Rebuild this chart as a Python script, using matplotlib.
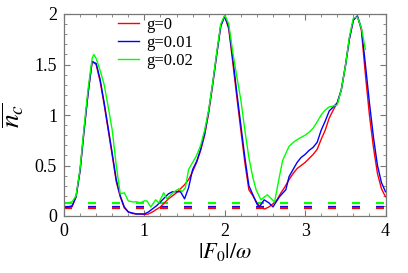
import matplotlib
matplotlib.use('Agg')
import matplotlib.pyplot as plt
import matplotlib.ticker as ticker

# g=0
x_r = [0, 0.05, 0.1, 0.15, 0.2, 0.25, 0.3, 0.35, 0.4, 0.45, 0.5, 0.55, 0.6, 0.65, 0.7,
       0.75, 0.8, 0.85, 0.9, 0.95, 1.0, 1.05, 1.1, 1.15, 1.2, 1.25, 1.3, 1.35, 1.4, 1.45,
       1.5, 1.55, 1.6, 1.65, 1.7, 1.75, 1.8, 1.85, 1.9, 1.95, 2.0, 2.05, 2.1, 2.15, 2.2,
       2.25, 2.3, 2.35, 2.4, 2.45, 2.5, 2.55, 2.6, 2.65, 2.7, 2.75, 2.8, 2.85, 2.9, 2.95,
       3.0, 3.05, 3.1, 3.15, 3.2, 3.25, 3.3, 3.35, 3.4, 3.45, 3.5, 3.55, 3.6, 3.65, 3.7,
       3.75, 3.8, 3.85, 3.9, 3.95, 4.0]
y_r = [0.08, 0.08, 0.09, 0.19, 0.45, 0.85, 1.22, 1.53, 1.5, 1.33, 1.1, 0.85, 0.6, 0.34, 0.19,
       0.08, 0.04, 0.025, 0.02, 0.02, 0.015, 0.02, 0.04, 0.065, 0.09, 0.13, 0.17, 0.2, 0.23, 0.27,
       0.31, 0.36, 0.44, 0.53, 0.65, 0.8, 1.02, 1.3, 1.6, 1.88, 1.98, 1.85, 1.52, 1.18, 0.85,
       0.53, 0.26, 0.2, 0.13, 0.08, 0.07, 0.09, 0.12, 0.16, 0.23, 0.29, 0.36, 0.42, 0.47, 0.5,
       0.53, 0.57, 0.61, 0.66, 0.76, 0.85, 0.97, 1.05, 1.12, 1.25, 1.48, 1.75, 1.94, 1.98, 1.84,
       1.4, 1.0, 0.68, 0.42, 0.27, 0.19]

# g=0.01
x_b = [0, 0.05, 0.1, 0.15, 0.2, 0.25, 0.3, 0.35, 0.4, 0.45, 0.5, 0.55, 0.6, 0.65, 0.7,
       0.75, 0.8, 0.85, 0.9, 0.95, 1.0, 1.05, 1.1, 1.15, 1.2, 1.25, 1.3, 1.35, 1.4, 1.45,
       1.5, 1.55, 1.6, 1.65, 1.7, 1.75, 1.8, 1.85, 1.9, 1.95, 2.0, 2.05, 2.1, 2.15, 2.2,
       2.25, 2.3, 2.35, 2.4, 2.43, 2.49, 2.55, 2.6, 2.68, 2.76, 2.8, 2.85, 2.9, 2.95,
       3.0, 3.05, 3.1, 3.15, 3.2, 3.25, 3.3, 3.35, 3.4, 3.45, 3.5, 3.55, 3.6, 3.65, 3.7,
       3.75, 3.8, 3.85, 3.9, 3.95, 4.0]
y_b = [0.09, 0.09, 0.1, 0.19, 0.45, 0.85, 1.22, 1.53, 1.51, 1.35, 1.12, 0.87, 0.62, 0.36, 0.2,
       0.09, 0.04, 0.03, 0.02, 0.02, 0.02, 0.04, 0.07, 0.1, 0.14, 0.18, 0.22, 0.24, 0.24, 0.24,
       0.17, 0.28, 0.46, 0.54, 0.66, 0.82, 1.04, 1.31, 1.6, 1.88, 1.98, 1.87, 1.56, 1.22, 0.9,
       0.58, 0.3, 0.21, 0.12, 0.09, 0.16, 0.13, 0.09, 0.19, 0.26, 0.39, 0.46, 0.53, 0.58,
       0.61, 0.65, 0.68, 0.73, 0.85, 0.94, 1.04, 1.08, 1.12, 1.25, 1.48, 1.75, 1.94, 1.98, 1.86,
       1.5, 1.12, 0.78, 0.5, 0.33, 0.24]

# g=0.02
x_g = [0, 0.05, 0.1, 0.15, 0.2, 0.25, 0.3, 0.35, 0.37, 0.4, 0.45, 0.5, 0.55, 0.6, 0.65, 0.7,
       0.75, 0.8, 0.85, 0.9, 0.95, 1.0, 1.03, 1.08, 1.14, 1.18, 1.24, 1.28, 1.33, 1.37, 1.43,
       1.47, 1.51, 1.55, 1.6, 1.65, 1.7, 1.75, 1.8, 1.85, 1.9, 1.95, 2.0, 2.05, 2.1, 2.15,
       2.2, 2.25, 2.3, 2.35, 2.39, 2.45, 2.53, 2.62, 2.68, 2.72, 2.8, 2.87, 2.93, 3.0, 3.05,
       3.1, 3.14, 3.2, 3.25, 3.3, 3.35, 3.4, 3.45, 3.5, 3.55, 3.6, 3.65, 3.7, 3.75]
y_g = [0.13, 0.13, 0.14, 0.2, 0.47, 0.88, 1.26, 1.56, 1.6, 1.56, 1.44, 1.3, 1.08, 0.85, 0.5, 0.22,
       0.23, 0.15, 0.14, 0.14, 0.13, 0.15, 0.15, 0.09, 0.16, 0.13, 0.23, 0.17, 0.21, 0.24, 0.27,
       0.24, 0.28, 0.46, 0.53, 0.6, 0.7, 0.85, 1.05, 1.32, 1.62, 1.9, 1.99, 1.9, 1.62, 1.38,
       1.15, 0.85, 0.58, 0.38, 0.26, 0.16, 0.21, 0.14, 0.39, 0.55, 0.69, 0.74, 0.77, 0.8, 0.83,
       0.87, 0.92, 1.0, 1.05, 1.08, 1.09, 1.1, 1.25, 1.48, 1.77, 1.96, 1.97, 1.86, 1.65]

# dashed reference levels
level_r = 0.076
level_b = 0.092
level_g = 0.13

labels = ["g=0", "g=0.01", "g=0.02"]
colors = ["#ff0000", "#0000ff", "#00ff00"]

plt.rcParams['font.family'] = ['Liberation Serif', 'DejaVu Serif']
plt.rcParams['mathtext.fontset'] = 'stix'
plt.rcParams['lines.scale_dashes'] = False

fig = plt.figure(figsize=(4.08, 2.73), dpi=100)
ax = fig.add_axes([64/408, 1 - 216/273, 321.5/408, 202/273])

dash = (5.76, 11.52)
for lev, c in zip([level_g, level_b, level_r], [colors[2], colors[1], colors[0]]):
  ax.plot([0, 4], [lev, lev], color=c, lw=1.6, dashes=dash)

for xs, ys, c, lab in zip([x_r, x_b, x_g], [y_r, y_b, y_g], colors, labels):
  ax.plot(xs, ys, color=c, lw=1.0, label=lab)

ax.set_xlim(0, 4)
ax.set_ylim(0, 2)
ax.set_xticks([0, 1, 2, 3, 4])
ax.set_xticklabels(["0", "1", "2", "3", "4"])
ax.set_yticks([0, 0.5, 1, 1.5, 2])
ax.set_yticklabels(["0", "0.5", "1", "1.5", "2"])
ax.xaxis.set_minor_locator(ticker.MultipleLocator(0.2))
ax.yaxis.set_minor_locator(ticker.MultipleLocator(0.1))
ax.tick_params(which='both', direction='in', top=True, right=True, colors='#777777',
               labelcolor='black', labelsize=13)
ax.tick_params(which='major', length=4, width=0.8, pad=5)
ax.tick_params(which='minor', length=2.2, width=0.6)
for sp in ax.spines.values():
  sp.set_color('#777777')
  sp.set_linewidth(0.9)

ax.set_xlabel(r'$|F_0|/\omega$', fontsize=16, labelpad=1)
ax.set_ylabel(r'$\overline{n_c}$', fontsize=20, labelpad=6)

ax.legend(loc='upper left', bbox_to_anchor=(0.168, 0.985), frameon=False, fontsize=12,
          handlelength=1.25, handletextpad=0.45, labelspacing=0.12, borderpad=0,
          borderaxespad=0)

fig.savefig('out.png', dpi=100)
